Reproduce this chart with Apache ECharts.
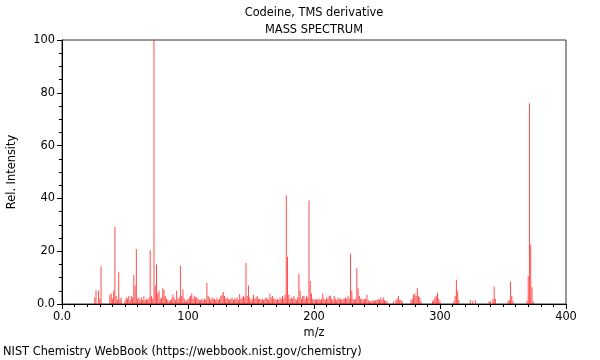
<!DOCTYPE html>
<html><head><meta charset="utf-8">
<script src="https://cdn.jsdelivr.net/npm/echarts@6/dist/echarts.min.js"></script>
<style>html,body{margin:0;padding:0;background:#fff}#c{width:600px;height:360px}</style>
</head><body><div id="c"></div>
<script>
var mz = [26,27,29,30,31,38,39,40,41,42,43,44,45,46,47,50,51,52,53,54,55,56,57,58,59,60,61,62,63,64,65,66,67,68,69,70,71,72,73,74,75,76,77,78,79,80,81,82,83,84,85,86,87,88,89,90,91,92,93,94,95,96,97,98,99,100,101,102,103,104,105,106,107,108,109,110,111,112,113,114,115,116,117,118,119,120,121,122,123,124,125,126,127,128,129,130,131,132,133,134,135,136,137,138,139,140,141,142,143,144,145,146,147,148,149,150,151,152,153,154,155,156,157,158,159,160,161,162,163,164,165,166,167,168,169,170,171,172,173,174,175,176,177,178,179,180,181,182,183,184,185,186,187,188,189,190,191,192,193,194,195,196,197,198,199,200,201,202,203,204,205,206,207,208,209,210,211,212,213,214,215,216,217,218,219,220,221,222,223,224,225,226,227,228,229,230,231,232,233,234,235,236,237,238,239,240,241,242,243,244,245,246,247,248,249,250,251,252,253,254,255,256,257,258,263,265,266,267,268,269,270,277,278,279,280,281,282,283,284,285,294,295,296,297,298,299,300,311,312,313,314,315,324,326,328,339,340,342,343,344,354,355,356,357,358,369,370,371,372,373,374];
var intensity = [2.5,5.3,5,2,14.3,3.5,4,2,5,29.3,3,1.5,12,2,2.5,1.5,2.5,2,3,1.5,3,2.5,11,7,20.8,2,2.5,1.5,2.5,1.5,3,1.5,2,1.5,2.5,20.4,3,2,100,7,15,4,5,2,2.5,6,5.5,3,2,1.5,1,1.5,2,3.5,2.5,1.5,5,2,2.5,14.5,3,5.5,2,1,1.5,2,2.5,3,4,2,3,2.5,2.5,2,1.5,1.5,2,1.5,2,1.5,8,3,2.5,1.5,2.5,2,2,1.5,2.5,1.5,2,3,3.5,4.5,3,2,2.5,2,1.5,2,2.5,1.5,2,2,2.5,1.5,3.8,2,2.5,3,2.5,15.5,3,7,2.5,1.5,2,3.5,2,2.5,3,2,2,1.5,2,1.5,2,2.5,2,1.5,4,2.5,3,2,2,1.5,2,1.5,2.5,2,3,2,3.5,41.2,17.9,3.5,2,2.5,2,3,2,1.5,2.5,11.4,5,2,3,3,2,3,2.5,39.2,8.7,4,2,1.5,2,1.5,2,2,1.5,2,4,2,1.5,2.5,2,3,3.2,2,1.5,3,2,1.5,2.5,2,2,1.5,2,2,2.5,2,3,2,19,5,2,1.5,2,13.5,6,3,2,2,1.5,2,2,3.5,1.5,1,1,1,1.5,1,1.5,1.5,2,1.5,2.5,1.5,2.5,1.5,1,1,1,1.5,2,3,1.5,1.5,1,1.5,2,3.5,4,3,6,3,2.5,1,1,1.5,2.5,3,4.3,2,1,1,3,9.2,5,1.5,1.5,1,1.5,1,1,2,6.5,2,1,1.5,8.5,3,1,1,10.5,76,22.5,6.3,1];
var xTicks = [0,100,200,300,400];
var yTicks = [0,20,40,60,80,100];

var FONT = 'DejaVu Sans';
var FS = 11.4;
var data = mz.map(function(m,i){return [m, intensity[i]];});
var fmt = function(v){return v===0 ? '0.0' : String(v);};
var chart = echarts.init(document.getElementById('c'), null, {renderer:'canvas'});
chart.setOption({
  animation:false,
  backgroundColor:'#fff',
  grid:{left:62,right:34,top:40,bottom:56,containLabel:false,outerBoundsMode:'none',show:true,borderColor:'#333',borderWidth:1,backgroundColor:'transparent'},
  xAxis:{type:'value',min:xTicks[0],max:xTicks[xTicks.length-1],interval:100,
    name:'m/z',nameLocation:'middle',nameGap:23,nameTextStyle:{fontFamily:FONT,fontSize:FS,color:'#000'},
    axisLine:{show:true,lineStyle:{color:'#000'}},
    axisTick:{show:true,length:5,lineStyle:{color:'#000'}},
    minorTick:{show:true,splitNumber:10,length:3,lineStyle:{color:'#000'}},
    axisLabel:{formatter:fmt,fontFamily:FONT,fontSize:FS,color:'#000',margin:8},
    splitLine:{show:false}},
  yAxis:{type:'value',min:yTicks[0],max:yTicks[yTicks.length-1],interval:20,
    name:'Rel. Intensity',nameLocation:'middle',nameGap:44,nameRotate:90,nameTextStyle:{fontFamily:FONT,fontSize:FS,color:'#000'},
    axisLine:{show:true,lineStyle:{color:'#000'}},
    axisTick:{show:true,length:5,lineStyle:{color:'#000'}},
    minorTick:{show:true,splitNumber:4,length:3,lineStyle:{color:'#000'}},
    axisLabel:{formatter:fmt,fontFamily:FONT,fontSize:FS,color:'#000',margin:7},
    splitLine:{show:false}},
  graphic:[
    {type:'text',x:314,y:8,style:{text:'Codeine, TMS derivative',font:FS+'px "DejaVu Sans"',fill:'#000',align:'center'}},
    {type:'text',x:314,y:25,style:{text:'MASS SPECTRUM',font:FS+'px "DejaVu Sans"',fill:'#000',align:'center'}},
    {type:'text',x:3,y:347,style:{text:'NIST Chemistry WebBook (https://webbook.nist.gov/chemistry)',font:FS+'px "DejaVu Sans"',fill:'#000'}}
  ],
  series:[{type:'bar',data:data,barWidth:1,itemStyle:{color:'rgba(255,0,0,0.7)'},silent:true}]
});
</script></body></html>
